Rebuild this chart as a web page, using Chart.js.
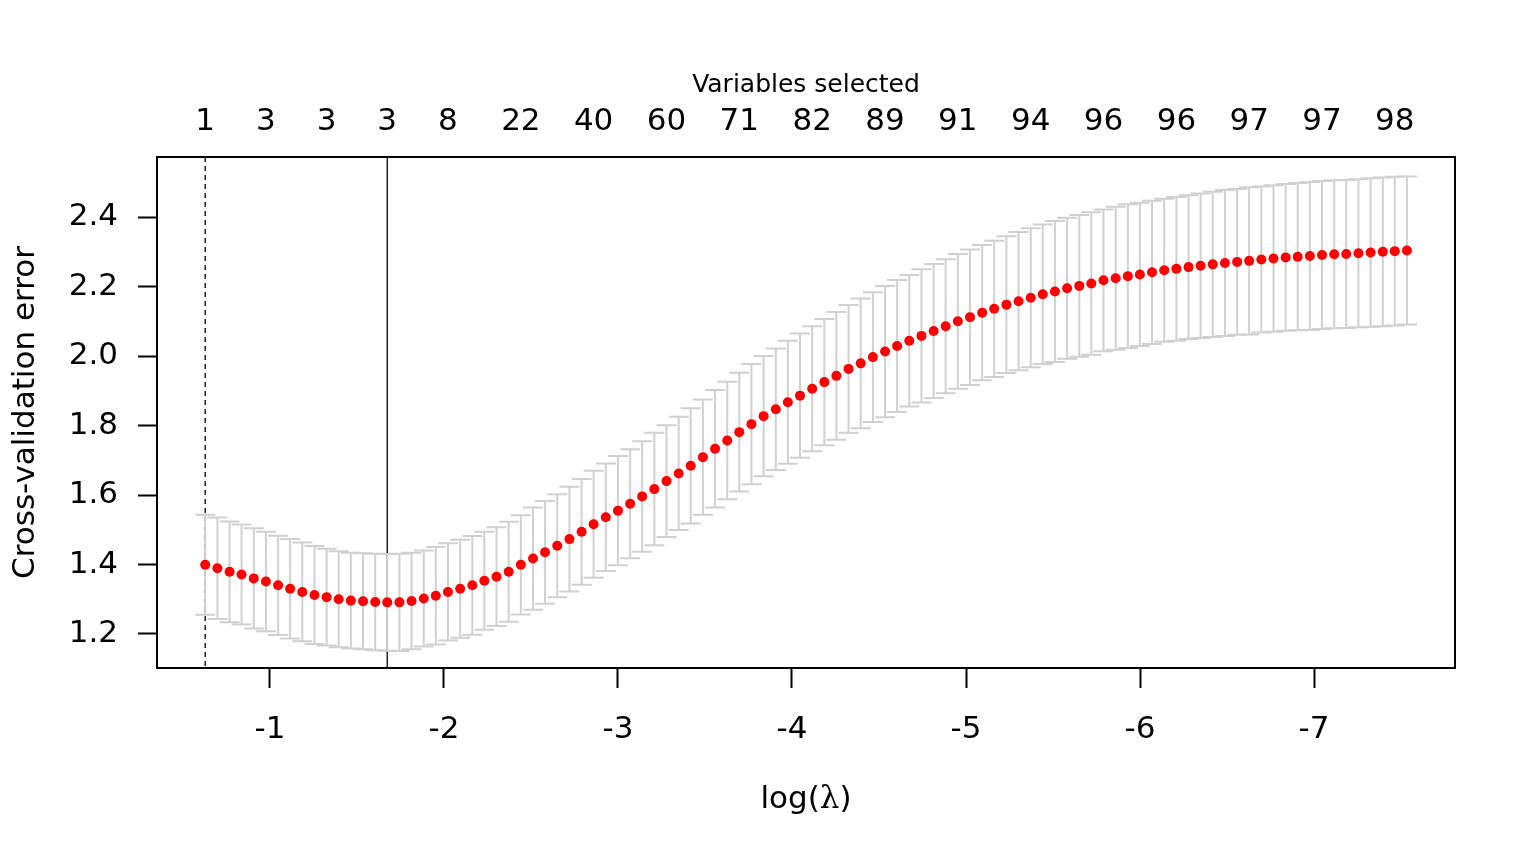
<!DOCTYPE html>
<html>
<head>
<meta charset="utf-8">
<title>Cross-validation error</title>
<script src="https://cdn.jsdelivr.net/npm/chart.js@4.4.1/dist/chart.umd.min.js"></script>
<style>
  html, body { margin: 0; padding: 0; background: #fff; }
  canvas { display: block; }
</style>
</head>
<body>
<canvas id="cvChart" width="1536" height="865"></canvas>
<script>
/* ── Data ───────────────────────────────────────────────── */
const logLambda = [
  -0.628, -0.698, -0.768, -0.837, -0.907, -0.977, -1.047, -1.116, -1.186, -1.256,
  -1.326, -1.395, -1.465, -1.535, -1.605, -1.674, -1.744, -1.814, -1.884, -1.953,
  -2.023, -2.093, -2.163, -2.232, -2.302, -2.372, -2.442, -2.512, -2.581, -2.651,
  -2.721, -2.791, -2.860, -2.930, -3.000, -3.070, -3.139, -3.209, -3.279, -3.349,
  -3.418, -3.488, -3.558, -3.628, -3.697, -3.767, -3.837, -3.907, -3.976, -4.046,
  -4.116, -4.186, -4.255, -4.325, -4.395, -4.465, -4.535, -4.604, -4.674, -4.744,
  -4.814, -4.883, -4.953, -5.023, -5.093, -5.162, -5.232, -5.302, -5.372, -5.441,
  -5.511, -5.581, -5.651, -5.720, -5.790, -5.860, -5.930, -5.999, -6.069, -6.139,
  -6.209, -6.279, -6.348, -6.418, -6.488, -6.558, -6.627, -6.697, -6.767, -6.837,
  -6.906, -6.976, -7.046, -7.116, -7.185, -7.255, -7.325, -7.395, -7.464, -7.534
];

const cvm = [
  1.399, 1.389, 1.379, 1.371, 1.360, 1.351, 1.340, 1.330, 1.321, 1.312,
  1.306, 1.300, 1.296, 1.294, 1.292, 1.291, 1.291, 1.295, 1.302, 1.310,
  1.321, 1.330, 1.340, 1.353, 1.365, 1.379, 1.399, 1.417, 1.435, 1.454,
  1.473, 1.494, 1.516, 1.536, 1.555, 1.575, 1.596, 1.617, 1.640, 1.662,
  1.684, 1.709, 1.733, 1.757, 1.781, 1.804, 1.827, 1.847, 1.867, 1.886,
  1.906, 1.925, 1.943, 1.963, 1.979, 1.997, 2.013, 2.029, 2.044, 2.058,
  2.072, 2.086, 2.100, 2.112, 2.125, 2.136, 2.148, 2.158, 2.168, 2.178,
  2.186, 2.195, 2.202, 2.209, 2.218, 2.224, 2.230, 2.235, 2.241, 2.247,
  2.251, 2.256, 2.260, 2.264, 2.268, 2.271, 2.274, 2.278, 2.281, 2.284,
  2.286, 2.288, 2.291, 2.293, 2.294, 2.296, 2.298, 2.300, 2.302, 2.304
];

const cvsd = [
  0.144, 0.146, 0.145, 0.144, 0.144, 0.143, 0.143, 0.143, 0.142, 0.141,
  0.139, 0.138, 0.138, 0.138, 0.139, 0.139, 0.140, 0.139, 0.138, 0.140,
  0.140, 0.141, 0.142, 0.141, 0.142, 0.144, 0.143, 0.147, 0.148, 0.148,
  0.151, 0.152, 0.154, 0.155, 0.157, 0.157, 0.159, 0.162, 0.161, 0.163,
  0.166, 0.166, 0.169, 0.169, 0.171, 0.173, 0.173, 0.175, 0.177, 0.179,
  0.180, 0.182, 0.184, 0.184, 0.187, 0.187, 0.189, 0.190, 0.189, 0.192,
  0.193, 0.193, 0.194, 0.195, 0.195, 0.196, 0.197, 0.199, 0.200, 0.201,
  0.203, 0.203, 0.204, 0.205, 0.204, 0.206, 0.207, 0.206, 0.206, 0.206,
  0.207, 0.207, 0.208, 0.209, 0.210, 0.210, 0.212, 0.210, 0.211, 0.211,
  0.212, 0.213, 0.213, 0.213, 0.213, 0.213, 0.214, 0.214, 0.214, 0.213
];

// number of variables selected, shown along the top axis
const nzIndex  = [0, 5, 10, 15, 20, 26, 32, 38, 44, 50, 56, 62, 68, 74, 80, 86, 92, 98];
const nzLabels = ['1', '3', '3', '3', '8', '22', '40', '60', '71', '82', '89', '91', '94', '96', '96', '97', '97', '98'];

const xTicks = [-1, -2, -3, -4, -5, -6, -7];
const yTicks = [1.2, 1.4, 1.6, 1.8, 2.0, 2.2, 2.4];

const idx1se  = 0;   // dashed line
const idxMin  = 15;  // solid line

/* ── Look ───────────────────────────────────────────────── */
const SANS = "'DejaVu Sans', sans-serif";
const BAR_GREY = '#d0d0d0';

Chart.defaults.font.family = SANS;
Chart.defaults.font.size = 31;
Chart.defaults.color = '#000';

/* ── Plugin: selected-lambda lines, error bars, frame, x title ── */
const cvDecor = {
    id: 'cvDecor',
    beforeDatasetsDraw(chart) {
        const { ctx, chartArea: a, scales: { x, y } } = chart;
        ctx.save();

        // vertical reference lines
        ctx.strokeStyle = '#000';
        ctx.lineWidth = 1.3;
        ctx.setLineDash([5, 4]);
        let px = x.getPixelForValue(logLambda[idx1se]);
        ctx.beginPath(); ctx.moveTo(px, a.top); ctx.lineTo(px, a.bottom); ctx.stroke();
        ctx.setLineDash([]);
        px = x.getPixelForValue(logLambda[idxMin]);
        ctx.beginPath(); ctx.moveTo(px, a.top); ctx.lineTo(px, a.bottom); ctx.stroke();

        // error bars
        ctx.strokeStyle = BAR_GREY;
        ctx.lineWidth = 2;
        for (let i = 0; i < logLambda.length; i++) {
            const bx = x.getPixelForValue(logLambda[i]);
            const yt = y.getPixelForValue(cvm[i] + cvsd[i]);
            const yb = y.getPixelForValue(cvm[i] - cvsd[i]);
            ctx.beginPath();
            ctx.moveTo(bx, yt); ctx.lineTo(bx, yb);
            ctx.moveTo(bx - 10, yt); ctx.lineTo(bx + 10, yt);
            ctx.moveTo(bx - 10, yb); ctx.lineTo(bx + 10, yb);
            ctx.stroke();
        }
        ctx.restore();
    },
    afterDraw(chart) {
        const { ctx, chartArea: a } = chart;
        ctx.save();
        ctx.strokeStyle = '#000';
        ctx.lineWidth = 2;
        ctx.strokeRect(a.left, a.top, a.right - a.left, a.bottom - a.top);

        // x title: log(λ) with a serif lambda
        const parts = [
            ['log(', '31px ' + SANS],
            ['\u03BB', "31px 'DejaVu Serif', 'Liberation Serif', serif"],
            [')', '31px ' + SANS]
        ];
        let total = 0;
        parts.forEach(p => { ctx.font = p[1]; total += ctx.measureText(p[0]).width; });
        let tx = (a.left + a.right) / 2 - total / 2;
        ctx.fillStyle = '#000';
        ctx.textAlign = 'left';
        ctx.textBaseline = 'alphabetic';
        parts.forEach(p => {
            ctx.font = p[1];
            ctx.fillText(p[0], tx, 808);
            tx += ctx.measureText(p[0]).width;
        });
        ctx.restore();
    }
};

/* ── Chart ──────────────────────────────────────────────── */
const points = logLambda.map((v, i) => ({ x: v, y: cvm[i] }));

new Chart(document.getElementById('cvChart'), {
    type: 'scatter',
    data: {
        datasets: [{
            data: points,
            pointRadius: 5,
            pointHoverRadius: 5,
            pointBorderWidth: 0,
            pointBackgroundColor: '#ff0000',
            showLine: false
        }]
    },
    options: {
        responsive: false,
        animation: false,
        events: [],
        layout: { padding: { left: 0, top: 0, right: 81, bottom: 0 } },
        plugins: {
            legend: { display: false },
            tooltip: { enabled: false }
        },
        scales: {
            x: {
                type: 'linear',
                position: 'bottom',
                reverse: true,
                min: -7.81,
                max: -0.351,
                border: { display: false },
                grid: { drawOnChartArea: false, drawTicks: true, tickLength: 20, tickColor: '#000', tickWidth: 2 },
                ticks: { autoSkip: false, maxRotation: 0, padding: 23, callback: v => String(v) },
                afterBuildTicks: s => { s.ticks = xTicks.map(v => ({ value: v })); },
                afterFit: s => { s.height = 197; }
            },
            top: {
                type: 'linear',
                position: 'top',
                reverse: true,
                min: -7.81,
                max: -0.351,
                border: { display: false },
                grid: { drawOnChartArea: false, drawTicks: false },
                ticks: { autoSkip: false, maxRotation: 0, padding: 16, callback: (v, i) => nzLabels[i] },
                title: {
                    display: true,
                    text: 'Variables selected',
                    font: { size: 25 },
                    padding: { top: 70, bottom: 0 }
                },
                afterBuildTicks: s => { s.ticks = nzIndex.map(i => ({ value: logLambda[i] })); },
                afterFit: s => { s.height = 157; }
            },
            y: {
                type: 'linear',
                position: 'left',
                min: 1.102,
                max: 2.573,
                border: { display: false },
                grid: { drawOnChartArea: false, drawTicks: true, tickLength: 19, tickColor: '#000', tickWidth: 2 },
                ticks: { padding: 20, callback: v => v.toFixed(1) },
                title: {
                    display: true,
                    text: 'Cross-validation error',
                    font: { size: 31 },
                    padding: { top: 7, bottom: 0 }
                },
                afterBuildTicks: s => { s.ticks = yTicks.map(v => ({ value: v })); },
                afterFit: s => { s.width = 157; }
            }
        }
    },
    plugins: [cvDecor]
});
</script>
</body>
</html>
